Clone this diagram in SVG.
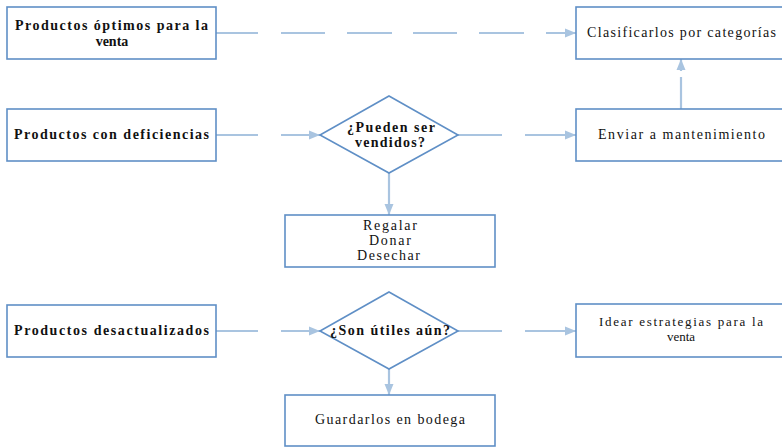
<svg xmlns="http://www.w3.org/2000/svg" width="782" height="447" viewBox="0 0 782 447">
<defs>
<marker id="ah" markerUnits="userSpaceOnUse" markerWidth="12" markerHeight="10" refX="11" refY="5" orient="auto">
<path d="M0,0.5 L11,5 L0,9.5 z" fill="#a9c4e0"/>
</marker>
<style>
.box{fill:#fff;stroke:#5f8fc6;stroke-width:1.6}
.con{fill:none;stroke:#a9c4e0;stroke-width:2.2}
.t{font-family:"Liberation Serif","Times New Roman",serif;font-size:14px;fill:#111}
.s{font-size:13px}
.b{font-weight:bold}
.m{text-anchor:middle}
</style>
</defs>
<rect width="782" height="447" fill="#fff"/>
<g id="connectors">
<path class="con" d="M216,33 L258,33 M281,33 L325,33 M347,33 L392,33 M413,33 L457,33 M479,33 L524,33 M546,33 L576,33" marker-end="url(#ah)"/>
<path class="con" d="M216,135 L258,135 M281,135 L320,135" marker-end="url(#ah)"/>
<path class="con" d="M458,135 L502,135 M525,135 L576,135" marker-end="url(#ah)"/>
<path class="con" d="M681,109 L681,77"/>
<path class="con" d="M681,71 L681,59" marker-end="url(#ah)"/>
<path class="con" d="M389,173 L389,215" marker-end="url(#ah)"/>
<path class="con" d="M216,331 L258,331 M281,331 L320,331" marker-end="url(#ah)"/>
<path class="con" d="M458,331 L502,331 M525,331 L576,331" marker-end="url(#ah)"/>
<path class="con" d="M389,369 L389,395" marker-end="url(#ah)"/>
</g>
<g id="n1">
<rect class="box" x="7" y="7" width="209" height="52"/>
<text class="t b" x="15" y="30" textLength="193" lengthAdjust="spacing">Productos óptimos para la</text>
<text class="t b m" x="112" y="46">venta</text>
</g>
<g id="n2">
<rect class="box" x="7" y="109" width="209" height="52"/>
<text class="t b" x="14" y="139" textLength="195" lengthAdjust="spacing">Productos con deficiencias</text>
</g>
<g id="n3">
<rect class="box" x="7" y="305" width="209" height="52"/>
<text class="t b" x="14" y="335" textLength="195" lengthAdjust="spacing">Productos desactualizados</text>
</g>
<g id="d1">
<polygon class="box" points="389,96 458,135 389,173 320,135"/>
<text class="t b" x="347" y="132" textLength="88" lengthAdjust="spacing">¿Pueden ser</text>
<text class="t b" x="355" y="147" textLength="70" lengthAdjust="spacing">vendidos?</text>
</g>
<g id="d2">
<polygon class="box" points="389,292 458,331 389,369 320,331"/>
<text class="t b" x="330" y="335" textLength="120" lengthAdjust="spacing">¿Son útiles aún?</text>
</g>
<g id="n4">
<rect class="box" x="576" y="7" width="212" height="52"/>
<text class="t" x="587" y="37" textLength="189" lengthAdjust="spacing">Clasificarlos por categorías</text>
</g>
<g id="n5">
<rect class="box" x="576" y="109" width="212" height="52"/>
<text class="t" x="598" y="139" textLength="167" lengthAdjust="spacing">Enviar a mantenimiento</text>
</g>
<g id="n6">
<rect class="box" x="285" y="215" width="210" height="52"/>
<text class="t" x="363" y="230" textLength="54" lengthAdjust="spacing">Regalar</text>
<text class="t" x="369" y="245" textLength="42" lengthAdjust="spacing">Donar</text>
<text class="t" x="357" y="260" textLength="63" lengthAdjust="spacing">Desechar</text>
</g>
<g id="n7">
<rect class="box" x="576" y="304" width="212" height="53"/>
<text class="t s" x="599" y="326" textLength="164" lengthAdjust="spacing">Idear estrategias para la</text>
<text class="t s m" x="681" y="341">venta</text>
</g>
<g id="n8">
<rect class="box" x="285" y="395" width="210" height="51"/>
<text class="t" x="315" y="424" textLength="150" lengthAdjust="spacing">Guardarlos en bodega</text>
</g>
</svg>
